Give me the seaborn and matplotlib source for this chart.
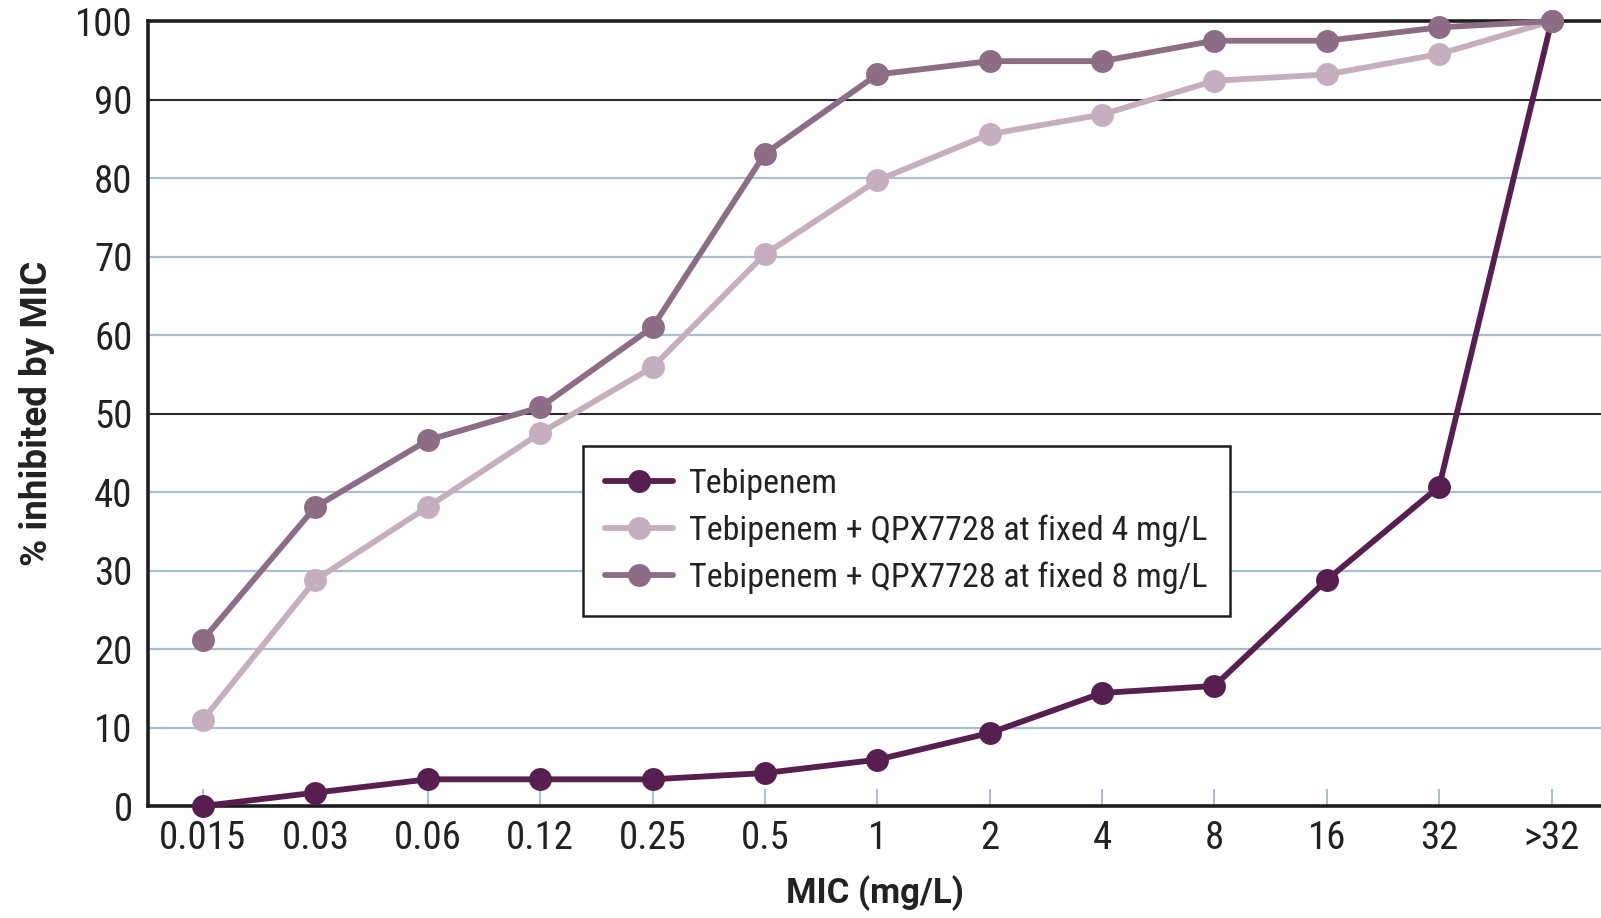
import numpy as np
import pandas as pd
import matplotlib
matplotlib.use("Agg")
import matplotlib.pyplot as plt
import seaborn as sns
from matplotlib.lines import Line2D

# MIC dilution steps (mg/L) and cumulative % of isolates inhibited
mic_labels = ["0.015", "0.03", "0.06", "0.12", "0.25", "0.5", "1", "2", "4", "8", "16", "32", ">32"]
tebipenem = [0.0, 1.7, 3.4, 3.4, 3.4, 4.2, 5.9, 9.3, 14.4, 15.3, 28.8, 40.7, 100.0]
teb_qpx_4 = [11.0, 28.8, 38.1, 47.5, 55.9, 70.3, 79.7, 85.6, 88.1, 92.4, 93.2, 95.8, 100.0]
teb_qpx_8 = [21.2, 38.1, 46.6, 50.8, 61.0, 83.1, 93.2, 94.9, 94.9, 97.5, 97.5, 99.2, 100.0]

series_names = [
    "Tebipenem",
    "Tebipenem + QPX7728 at fixed 4 mg/L",
    "Tebipenem + QPX7728 at fixed 8 mg/L",
]
series_colors = ["#561f4f", "#c5afbe", "#8d6c86"]
y_ticks = list(range(0, 101, 10))

pos = np.arange(len(mic_labels))
df = pd.concat([
    pd.DataFrame({"pos": pos, "pct": vals, "series": name})
    for name, vals in zip(series_names, [tebipenem, teb_qpx_4, teb_qpx_8])
], ignore_index=True)

sns.set_style("white")
plt.rcParams["font.family"] = ["Roboto Condensed", "DejaVu Sans"]

fig = plt.figure(figsize=(16.01, 9.18), dpi=100)
ax = fig.add_axes([0.0924, 0.122, 0.9076, 0.855])

palette = dict(zip(series_names, series_colors))
sns.lineplot(data=df, x="pos", y="pct", hue="series", hue_order=series_names,
             palette=palette, marker="o", markersize=16.5, linewidth=4.2,
             markeredgewidth=0, legend=False, ax=ax, zorder=3)
for ln in ax.lines:
    ln.set_clip_on(False)

ax.set_xlim(-0.49, 12.44)
ax.set_ylim(0, 100)
ax.set_yticks(y_ticks)
ax.set_xticks(pos)
ax.set_xticklabels(mic_labels)

# horizontal grid: light blue, with darker reference lines at 50 and 90
ax.yaxis.grid(True, color="#a9bfcd", linewidth=1.6)
for gl, v in zip(ax.get_ygridlines(), y_ticks):
    if v in (50, 90):
        gl.set_color("#2a2a2a")
        gl.set_linewidth(1.5)
ax.set_axisbelow(True)

for side in ("left", "bottom", "top"):
    ax.spines[side].set_visible(True)
    ax.spines[side].set_color("#1e1e1e")
    ax.spines[side].set_linewidth(2.6)
ax.spines["right"].set_visible(False)

ax.tick_params(axis="x", direction="in", length=12, width=1.4, color="#a9bfcd",
               labelsize=28, labelcolor="#222222", pad=10, bottom=True)
ax.tick_params(axis="y", length=0, labelsize=28, labelcolor="#222222", pad=11, left=True)

label_font = dict(family=["Roboto", "DejaVu Sans"], fontweight="bold", color="#222222")
ax.set_xlabel("MIC (mg/L)", fontsize=25, labelpad=13, **label_font)
ax.set_ylabel("% inhibited by MIC", fontsize=26.5, labelpad=14, **label_font)

handles = [Line2D([0], [0], color=c, linewidth=4.2, marker="o", markersize=16.5,
                  markeredgewidth=0) for c in series_colors]
leg = ax.legend(handles, series_names, loc="upper left",
                bbox_to_anchor=(0.2994, 0.4586), fontsize=24.5, frameon=True,
                fancybox=False, edgecolor="#1e1e1e", framealpha=1,
                handlelength=2.0, handletextpad=0.47, labelspacing=0.42,
                borderpad=0.65, borderaxespad=0)
leg.get_frame().set_linewidth(1.8)
for t in leg.get_texts():
    t.set_color("#222222")

fig.savefig("out.png", dpi=100)
